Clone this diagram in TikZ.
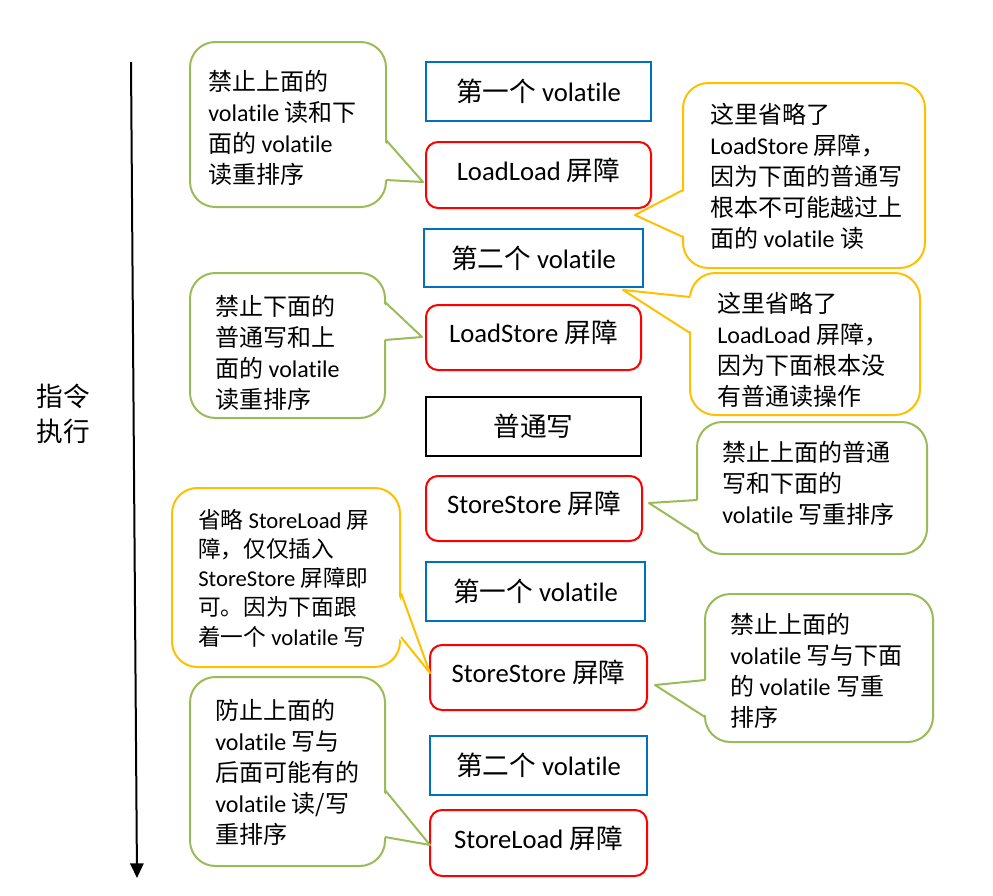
\documentclass[tikz,border=0pt]{standalone}
\usepackage{fontspec}
\setmainfont{Noto Sans CJK SC}
\newfontfamily\latf[Ligatures={NoCommon,NoRequired,NoContextual}]{Carlito}
\newcommand\ltn[1]{{\latf #1}}
\usetikzlibrary{arrows.meta}
\definecolor{cgreen}{RGB}{155,187,89}
\definecolor{corange}{RGB}{255,192,0}
\definecolor{cblue}{RGB}{0,112,192}
\definecolor{cred}{RGB}{255,0,0}
\begin{document}
\begin{tikzpicture}[x=0.75pt,y=-0.75pt,
  box/.style={draw,line width=1.5pt,inner sep=0pt,font=\fontsize{20}{24}\selectfont},
  bluebox/.style={box,draw=cblue},
  redbox/.style={box,draw=cred,rounded corners=9pt,text depth=9pt},
  blackbox/.style={box,draw=black},
  callout/.style={draw,line width=1.5pt,fill=white,rounded corners=19pt,inner sep=0pt},
  gcall/.style={callout,draw=cgreen},
  ocall/.style={callout,draw=corange},
  tailfill/.style={fill=white},
  gtail/.style={draw=cgreen,line width=1.5pt,line join=round},
  otail/.style={draw=corange,line width=1.5pt,line join=round},
  ctext/.style={anchor=west,align=left,inner sep=0pt,font=\fontsize{18}{23.25}\selectfont},
  lbl/.style={align=left,inner sep=0pt,font=\fontsize{20}{26}\selectfont}
]
\useasboundingbox (0,0) rectangle (993,896);

% time arrow
\coordinate (atop) at (131,62);
\coordinate (abot) at (137,878);
\draw[line width=1.5pt,-{Triangle[length=11pt,width=10pt]}] (atop) -- (abot);
\node[lbl] (label) at (63,414) {指令\\执行};

% instruction boxes
\node[bluebox,minimum width=168.75pt,minimum height=44.25pt] (b1) at (538.5,91.5) {第一个 \ltn{volatile}};
\node[redbox,minimum width=168.75pt,minimum height=49.5pt] (b2) at (538.5,175) {\ltn{LoadLoad} 屏障};
\node[bluebox,minimum width=164.25pt,minimum height=43.5pt] (b3) at (533.5,258) {第二个 \ltn{volatile}};
\node[redbox,minimum width=161.25pt,minimum height=48.75pt] (b4) at (533.5,337.5) {\ltn{LoadStore} 屏障};
\node[blackbox,minimum width=161.25pt,minimum height=44.25pt] (b5) at (533.5,426.5) {普通写};
\node[redbox,minimum width=162pt,minimum height=48.75pt] (b6) at (534,508.5) {\ltn{StoreStore} 屏障};
\node[bluebox,minimum width=164.25pt,minimum height=44.25pt] (b7) at (535.5,591.5) {第一个 \ltn{volatile}};
\node[redbox,minimum width=162.75pt,minimum height=48.75pt] (b8) at (538.5,677.5) {\ltn{StoreStore} 屏障};
\node[bluebox,minimum width=162.75pt,minimum height=44.25pt] (b9) at (538.5,765.5) {第二个 \ltn{volatile}};
\node[redbox,minimum width=162.75pt,minimum height=49.5pt] (b10) at (538.5,843) {\ltn{StoreLoad} 屏障};

% callout shapes
\node[gcall,minimum width=147pt,minimum height=123.75pt] (cA) at (288,124.5) {};
\node[ocall,minimum width=181.5pt,minimum height=138.75pt] (cB) at (804,175.5) {};
\node[ocall,minimum width=172.5pt,minimum height=106.5pt] (cC) at (805,344) {};
\node[gcall,minimum width=146.25pt,minimum height=108.75pt] (cD) at (287.5,345.5) {};
\node[gcall,minimum width=172.5pt,minimum height=99pt] (cE) at (812,488) {};
\node[ocall,minimum width=171pt,minimum height=134.25pt] (cF) at (286,577.5) {};
\node[gcall,minimum width=171pt,minimum height=111pt] (cG) at (819,668) {};
\node[gcall,minimum width=146.25pt,minimum height=141.75pt] (cH) at (287.5,771.5) {};

% tails: base points and tips
\coordinate (A1) at (386,140); \coordinate (At) at (423,182); \coordinate (A2) at (386,180);
\coordinate (B1) at (683,190); \coordinate (Bt) at (635,215); \coordinate (B2) at (683,237);
\coordinate (C1) at (690,297); \coordinate (Ct) at (623,290); \coordinate (C2) at (690,333);
\coordinate (D1) at (385,302); \coordinate (Dt) at (422,337); \coordinate (D2) at (385,340);
\coordinate (E1) at (697,500); \coordinate (Et) at (649,503); \coordinate (E2) at (697,534);
\coordinate (F1) at (401,593); \coordinate (Ft) at (430,673); \coordinate (F2) at (401,637);
\coordinate (G1) at (705,680); \coordinate (Gt) at (655,685); \coordinate (G2) at (705,717);
\coordinate (H1) at (385,790); \coordinate (Ht) at (430,845); \coordinate (H2) at (385,837);

% right-side tails
\foreach \n/\st in {A/gtail,D/gtail,F/otail,H/gtail}{
  \fill[tailfill] ([xshift=-2.5pt]\n1) -- (\n t) -- ([xshift=-2.5pt]\n2) -- cycle;
  \draw[\st] (\n1) -- (\n t) -- (\n2);
}
% left-side tails
\foreach \n/\st in {B/otail,C/otail,E/gtail,G/gtail}{
  \fill[tailfill] ([xshift=2.5pt]\n1) -- (\n t) -- ([xshift=2.5pt]\n2) -- cycle;
  \draw[\st] (\n1) -- (\n t) -- (\n2);
}

% callout texts
\node[ctext] (tA) at (208,128) {禁止上面的\\\ltn{volatile} 读和下\\面的 \ltn{volatile}\\读重排序};
\node[ctext] (tB) at (710,176) {这里省略了\\\ltn{LoadStore} 屏障，\\因为下面的普通写\\根本不可能越过上\\面的 \ltn{volatile} 读};
\node[ctext] (tC) at (717,350) {这里省略了\\\ltn{LoadLoad} 屏障，\\因为下面根本没\\有普通读操作};
\node[ctext] (tD) at (215,353) {禁止下面的\\普通写和上\\面的 \ltn{volatile}\\读重排序};
\node[ctext] (tE) at (722,483) {禁止上面的普通\\写和下面的\\\ltn{volatile} 写重排序};
\node[ctext,font=\fontsize{17}{21.9}\selectfont] (tF) at (198,578) {省略 \ltn{StoreLoad} 屏\\障，仅仅插入\\\ltn{StoreStore} 屏障即\\可。因为下面跟\\着一个 \ltn{volatile} 写};
\node[ctext] (tG) at (730,671) {禁止上面的\\\ltn{volatile} 写与下面\\的 \ltn{volatile} 写重\\排序};
\node[ctext] (tH) at (215,772) {防止上面的\\\ltn{volatile} 写与\\后面可能有的\\\ltn{volatile} 读/写\\重排序};
\end{tikzpicture}
\end{document}
